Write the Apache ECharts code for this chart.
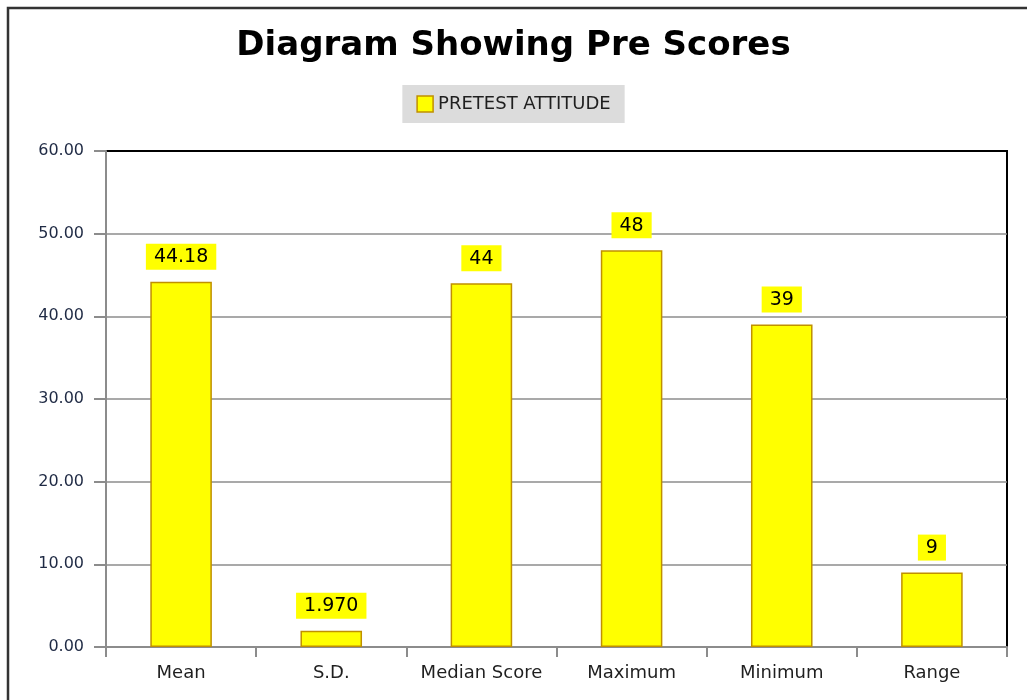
<!DOCTYPE html>
<html>
<head>
<meta charset="utf-8">
<script src="https://cdn.jsdelivr.net/npm/echarts@6/dist/echarts.min.js"></script>
<style>
html,body{margin:0;padding:0;background:#fff;}
#chart{width:1027px;height:700px;}
</style>
</head>
<body>
<div id="chart"></div>
<script>
const categories = ['Mean', 'S.D.', 'Median Score', 'Maximum', 'Minimum', 'Range'];
const values = [44.18, 1.970, 44, 48, 39, 9];
const valueLabels = ['44.18', '1.970', '44', '48', '39', '9'];
const seriesName = 'PRETEST ATTITUDE';
const titleText = 'Diagram Showing Pre Scores';

const chart = echarts.init(document.getElementById('chart'));
const font = 'DejaVu Sans';
chart.setOption({
  animation: false,
  backgroundColor: '#fff',
  graphic: [{
    type: 'rect',
    shape: { x: 8, y: 8, width: 1100, height: 800 },
    style: { fill: 'none', stroke: '#333', lineWidth: 2.5 },
    z: 100
  }],
  title: {
    text: titleText,
    left: 'center',
    top: 24,
    textStyle: { fontFamily: font, fontWeight: 'bold', fontSize: 34, color: '#000' }
  },
  legend: {
    top: 85,
    left: 'center',
    backgroundColor: '#dcdcdc',
    padding: [10, 14, 10, 14],
    itemWidth: 16,
    itemHeight: 16,
    itemGap: 8,
    textStyle: { fontFamily: font, fontSize: 18, color: '#1f1f1f' },
    data: [{ name: seriesName, icon: 'rect', itemStyle: { color: '#ffff00', borderColor: '#c09000', borderWidth: 1.5 } }]
  },
  grid: {
    left: 106, right: 20, top: 151, bottom: 53,
    show: true, borderColor: '#000', borderWidth: 2, backgroundColor: '#fff'
  },
  xAxis: {
    type: 'category',
    data: categories,
    axisLine: { lineStyle: { color: '#8c8c8c', width: 2 } },
    axisTick: { show: true, interval: 0, length: 10, lineStyle: { color: '#8c8c8c', width: 2 } },
    axisLabel: { interval: 0, fontFamily: font, fontSize: 18, color: '#1f1f1f', margin: 17 }
  },
  yAxis: {
    type: 'value',
    min: 0, max: 60, interval: 10,
    axisLine: { show: true, lineStyle: { color: '#8c8c8c', width: 2 } },
    axisTick: { show: true, length: 12, lineStyle: { color: '#8c8c8c', width: 2 } },
    splitLine: { showMaxLine: false, lineStyle: { color: '#8c8c8c', width: 1.5 } },
    axisLabel: {
      fontFamily: font, fontSize: 16, color: '#1f2a44', margin: 22,
      formatter: v => v.toFixed(2)
    }
  },
  series: [{
    name: seriesName,
    type: 'bar',
    barWidth: '41%',
    data: values,
    itemStyle: { color: '#ffff00', borderColor: '#c09000', borderWidth: 1.5 },
    label: {
      show: true,
      position: 'top',
      distance: 12,
      backgroundColor: '#ffff00',
      padding: [4, 8, 3, 8],
      fontFamily: font,
      fontSize: 19,
      color: '#000',
      formatter: p => valueLabels[p.dataIndex]
    }
  }]
});
</script>
</body>
</html>
